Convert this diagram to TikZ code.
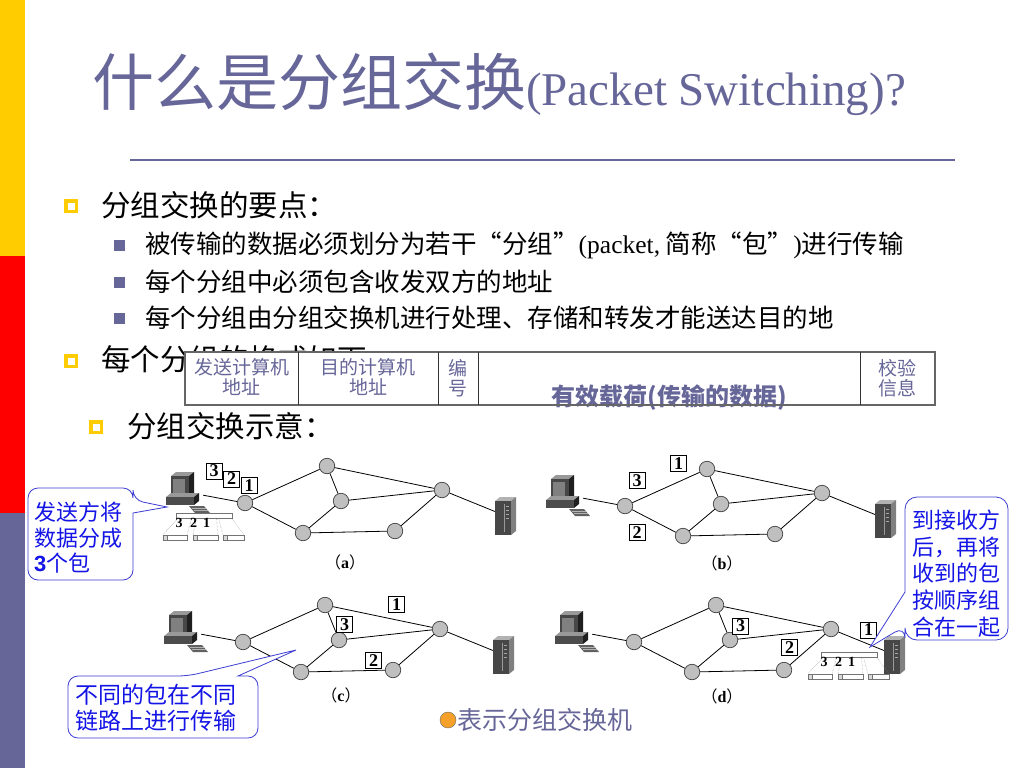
\documentclass[tikz,border=0pt]{standalone}
\usepackage{fontspec}
\setmainfont{Noto Sans CJK SC}
\newfontfamily\tms{Liberation Serif}
\newfontfamily\arl{Liberation Sans}
\usepackage{xcolor}
\usetikzlibrary{positioning,calc}
\definecolor{slate}{RGB}{102,102,153}
\definecolor{baryellow}{RGB}{255,204,0}
\definecolor{barred}{RGB}{255,0,0}
\definecolor{noteblue}{RGB}{20,20,230}
\definecolor{noteline}{RGB}{60,60,210}
\definecolor{legendorange}{RGB}{245,160,40}

\tikzset{
  txt/.style={anchor=west, inner sep=0pt},
  hollowbullet/.style={draw=baryellow, fill=white, line width=3.5pt, minimum size=10.5pt, inner sep=0pt},
  subbullet/.style={fill=slate, minimum size=11pt, inner sep=0pt},
  cell/.style={align=center, inner sep=0pt, text=slate, font=\fontsize{19}{19.5}\selectfont},
  sw/.style={circle, draw=black!75, fill=black!25, line width=0.7pt, minimum size=15.5pt, inner sep=0pt},
  pcbox/.style={minimum width=34pt, minimum height=34pt, inner sep=0pt},
  srvbox/.style={minimum width=22pt, minimum height=38pt, inner sep=0pt},
  link/.style={line width=0.8pt},
  pkt/.style={draw, fill=white, line width=0.6pt, inner sep=0pt, minimum size=16pt, font=\tms\bfseries\fontsize{18}{18}\selectfont},
  panel/.style={inner sep=0pt, font=\fontsize{16}{16}\selectfont},
  seqnum/.style={inner sep=0pt, font=\tms\bfseries\fontsize{14}{14}\selectfont},
  balloon/.style={draw=noteline, fill=white, line width=0.8pt},
  note/.style={anchor=west, align=left, inner sep=0pt, text=noteblue},
  computer/.pic={
    % monitor
    \fill[black!40] (-15,-16) -- (-10,-20) -- (8,-20) -- (3,-16) -- cycle;
    \fill[black!72] (-15,-16) rectangle (3,5);
    \fill[black!50] (-13,-13) rectangle (-1,2);
    \fill[black!88] (3,-16) -- (8,-20) -- (8,1) -- (3,5) -- cycle;
    % system unit
    \fill[black!40] (-20,5) -- (-15,1) -- (13,1) -- (8,5) -- cycle;
    \fill[black!70] (-20,5) rectangle (8,13);
    \fill[black!88] (8,5) -- (13,1) -- (13,9) -- (8,13) -- cycle;
    % keyboard
    \fill[black!62] (3,14) -- (18,14) -- (24,21) -- (9,21) -- cycle;
    \draw[black!30, line width=0.5pt] (5.5,16.3) -- (20,16.3) (7.5,18.6) -- (22,18.6);
  },
  server/.pic={
    \fill[black!30] (-11,-15) -- (-6,-19) -- (10,-19) -- (5,-15) -- cycle;
    \fill[black!72] (-11,-15) rectangle (5,19);
    \fill[black!50] (5,-15) -- (10,-19) -- (10,15) -- (5,19) -- cycle;
    \draw[black!40, line width=0.5pt] (-2,-12) -- (-2,16);
    \foreach \yy in {-10,-6,-2,2} \draw[black!35, line width=0.8pt] (0,\yy) -- (3,\yy);
  },
  seqbar/.pic={
    \draw[black!55, fill=white, line width=0.5pt] (0,0) rectangle (56,5);
    \draw[black!50, densely dotted, line width=0.4pt] (2,5) -- (-13,22) (15.5,5) -- (11,22)
      (20.5,5) -- (17,22) (40.5,5) -- (42,22) (42.5,5) -- (47,22) (55.5,5) -- (68,22);
    \draw[black!55, fill=white, line width=0.5pt] (-9,22) rectangle (11,27) (21,22) rectangle (42,27) (51,22) rectangle (68,27);
    \draw[black!55, fill=black!15, line width=0.5pt] (-13,22) rectangle (-9,27) (17,22) rectangle (21,27) (47,22) rectangle (51,27);
    \node[seqnum] at (3,10) {3};
    \node[seqnum] at (17.5,10) {2};
    \node[seqnum] at (30.5,10) {1};
  }
}

\begin{document}
\begin{tikzpicture}[x=1pt, y=-1pt]
    \useasboundingbox (0,0) rectangle (1024,768);
    \fill[white] (0,0) rectangle (1024,768);

    % Side bars
    \fill[baryellow] (0,0) rectangle (25,256);
    \fill[barred] (0,256) rectangle (25,513);
    \fill[slate] (0,513) rectangle (25,768);

    % Title
    \node[anchor=base west, inner sep=0pt, text=slate] (title) at (92,105)
      {\fontsize{62}{62}\selectfont 什么是分组交换{\tms\fontsize{47}{47}\selectfont (Packet Switching)?}};
    \draw[slate, line width=2pt] (130,160) -- (955,160);

    % Bullets
    \node[hollowbullet] (b1) at (71,206) {};
    \node[txt, font=\fontsize{29.5}{30}\selectfont] (pt1) at (101,205) {分组交换的要点：};
    \node[subbullet] (sb1) at (119,245) {};
    \node[txt, font=\fontsize{25.5}{26}\selectfont] (sub1) at (145,245) {被传输的数据必须划分为若干“分组”{\tms (packet,} 简称“包”{\tms )}进行传输};
    \node[subbullet] (sb2) at (119,282) {};
    \node[txt, font=\fontsize{25.5}{26}\selectfont] (sub2) at (145,282) {每个分组中必须包含收发双方的地址};
    \node[subbullet] (sb3) at (119,318) {};
    \node[txt, font=\fontsize{25.5}{26}\selectfont] (sub3) at (145,318) {每个分组由分组交换机进行处理、存储和转发才能送达目的地};
    \node[hollowbullet] (b2) at (71,361) {};
    \node[txt, font=\fontsize{29.5}{30}\selectfont] (pt2) at (101,359) {每个分组的格式如下：};
    \node[hollowbullet] (b3) at (96,427) {};
    \node[txt, font=\fontsize{29.5}{30}\selectfont] (pt3) at (127,426) {分组交换示意：};

    % Packet format
    \fill[white] (185,352) rectangle (935,405);
    \node[cell] (srcaddr) at (241.5,377) {发送计算机\\地址};
    \node[cell] (dstaddr) at (368,377) {目的计算机\\地址};
    \node[cell] (seqno) at (458,378) {编\\号};
    \node[inner sep=0pt, text=slate, font=\bfseries\fontsize{24}{24}\selectfont] (payload) at (669,398) {有效载荷(传输的数据)};
    \node[cell] (chk) at (897,378) {校验\\信息};
    \draw[black!60, line width=1.2pt] (185,352) rectangle (935,405);
    \foreach \x in {298,438,478,860} \draw[black!80, line width=0.8pt] (\x,352) -- (\x,405);

    % Networks
    \foreach \p/\dx/\dy in {a/0/0, b/380/3, c/-2/139, d/389/139}{
      \begin{scope}[shift={(\dx,\dy)}]
        \pic at (186,492) {computer};
        \node[pcbox] (\p pc) at (186,492) {};
        \pic at (506,516) {server};
        \node[srvbox] (\p srv) at (506,516) {};
        \node[sw] (\p s1) at (245,503) {};
        \node[sw] (\p s2) at (327,466) {};
        \node[sw] (\p s3) at (341,501) {};
        \node[sw] (\p s4) at (303,533) {};
        \node[sw] (\p s5) at (395,531) {};
        \node[sw] (\p s6) at (442,490) {};
        \draw[link] (\p pc) -- (\p s1) -- (\p s2) -- (\p s6) -- (\p srv);
        \draw[link] (\p s1) -- (\p s4) -- (\p s5) -- (\p s6);
        \draw[link] (\p s2) -- (\p s3) -- (\p s6);
        \draw[link] (\p s3) -- (\p s4);
      \end{scope}
    }
    \node[panel] (alab) at (345,562) {（\textbf{\tms a}）};
    \node[panel] (blab) at (722,563) {（\textbf{\tms b}）};
    \node[panel] (clab) at (341,695) {（\textbf{\tms c}）};
    \node[panel] (dlab) at (722,696) {（\textbf{\tms d}）};

    % Packets
    \node[pkt] (apk3) at (214,471) {3};
    \node[pkt] (apk2) at (231.5,479) {2};
    \node[pkt] (apk1) at (249,485.5) {1};
    \node[pkt] (bpk1) at (678.5,463.5) {1};
    \node[pkt] (bpk3) at (637,480.5) {3};
    \node[pkt] (bpk2) at (637,532.5) {2};
    \node[pkt] (cpk1) at (396.5,604.5) {1};
    \node[pkt] (cpk3) at (344.5,624.5) {3};
    \node[pkt] (cpk2) at (373.5,660.5) {2};
    \node[pkt] (dpk3) at (740.5,626) {3};
    \node[pkt] (dpk2) at (789.5,647.5) {2};
    \node[pkt] (dpk1) at (868.5,630) {1};

    % Split and reassembly
    \pic at (176,513) {seqbar};
    \pic at (821,652) {seqbar};

    % Notes
    \draw[balloon, rounded corners=10pt] (28,488) -- (133,488) -- (133,500) [sharp corners] -- (167,507) -- (133,513)
      [rounded corners=10pt] -- (133,580) -- (28,580) -- cycle;
    \node[note, font=\fontsize{22}{25.5}\selectfont] (sendnote) at (34,538) {发送方将\\数据分成\\{\arl\bfseries 3}个包};
    \draw[balloon, rounded corners=12pt] (905,497) -- (1008,497) -- (1008,640) -- (905,640) -- (905,626) [sharp corners]
      -- (870,647) -- (905,592) [rounded corners=12pt] -- cycle;
    \node[note, font=\fontsize{22}{26.75}\selectfont] (recvnote) at (912,573.5) {到接收方\\后，再将\\收到的包\\按顺序组\\合在一起};
    \draw[balloon, rounded corners=10pt] (68,676) -- (188,676) [sharp corners] -- (296,650) -- (238,676)
      [rounded corners=10pt] -- (258,676) -- (258,738) -- (68,738) -- cycle;
    \node[note, font=\fontsize{23}{26}\selectfont] (pathnote) at (75,708) {不同的包在不同\\链路上进行传输};

    % Legend
    \node[circle, draw=black!60, fill=legendorange, minimum size=16pt, inner sep=0pt] (legsw) at (448,720) {};
    \node[txt, text=slate, font=\fontsize{25}{25}\selectfont, right=1pt of legsw] (legtext) {表示分组交换机};
\end{tikzpicture}
\end{document}
